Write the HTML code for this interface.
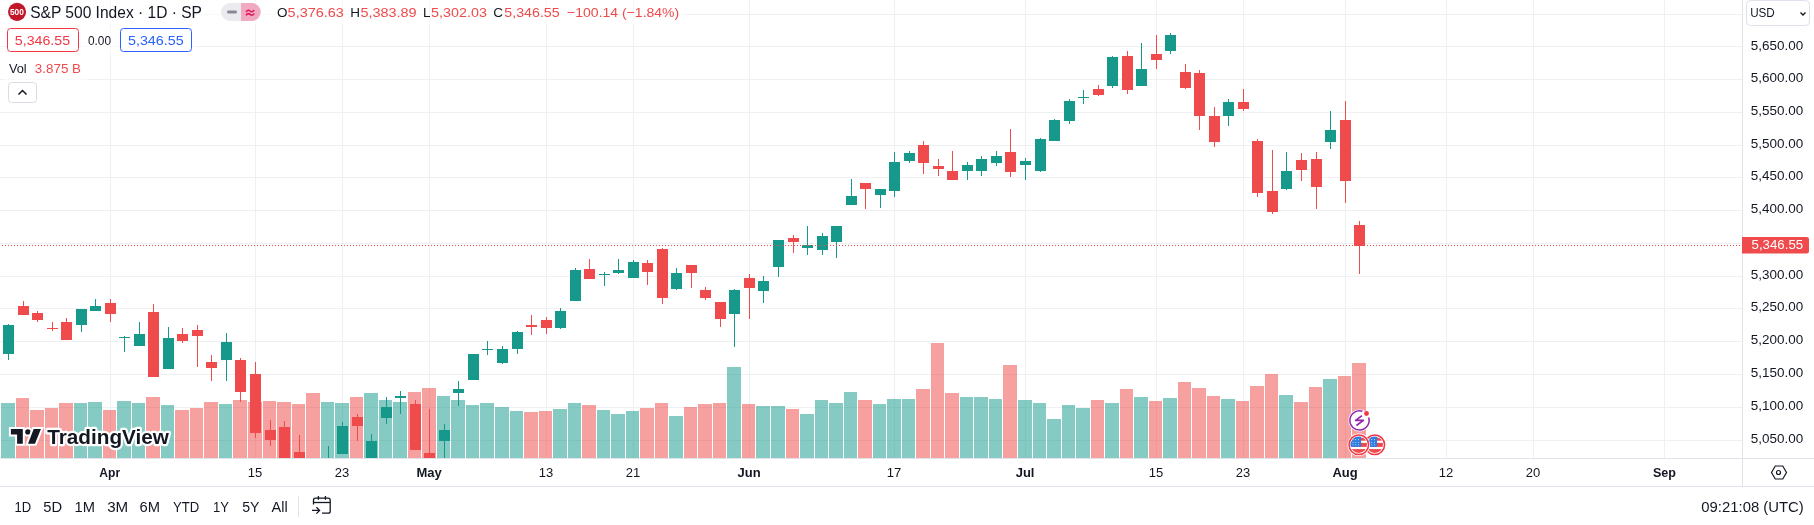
<!DOCTYPE html>
<html><head><meta charset="utf-8">
<style>
html,body{margin:0;padding:0;background:#fff;width:1814px;height:525px;overflow:hidden;}
svg{position:absolute;left:0;top:0;font-family:"Liberation Sans", sans-serif;will-change:transform;}
</style></head><body>
<svg width="1814" height="525" viewBox="0 0 1814 525">
<defs><clipPath id="pane"><rect x="0" y="0" width="1742" height="458"/></clipPath></defs>
<rect x="0" y="14" width="1742" height="1" fill="#eff0f1"/><rect x="0" y="46" width="1742" height="1" fill="#eff0f1"/><rect x="0" y="79" width="1742" height="1" fill="#eff0f1"/><rect x="0" y="112" width="1742" height="1" fill="#eff0f1"/><rect x="0" y="145" width="1742" height="1" fill="#eff0f1"/><rect x="0" y="177" width="1742" height="1" fill="#eff0f1"/><rect x="0" y="210" width="1742" height="1" fill="#eff0f1"/><rect x="0" y="243" width="1742" height="1" fill="#eff0f1"/><rect x="0" y="276" width="1742" height="1" fill="#eff0f1"/><rect x="0" y="308" width="1742" height="1" fill="#eff0f1"/><rect x="0" y="341" width="1742" height="1" fill="#eff0f1"/><rect x="0" y="374" width="1742" height="1" fill="#eff0f1"/><rect x="0" y="407" width="1742" height="1" fill="#eff0f1"/><rect x="0" y="440" width="1742" height="1" fill="#eff0f1"/><rect x="110" y="0" width="1" height="458" fill="#eff0f1"/><rect x="255" y="0" width="1" height="458" fill="#eff0f1"/><rect x="342" y="0" width="1" height="458" fill="#eff0f1"/><rect x="429" y="0" width="1" height="458" fill="#eff0f1"/><rect x="546" y="0" width="1" height="458" fill="#eff0f1"/><rect x="633" y="0" width="1" height="458" fill="#eff0f1"/><rect x="749" y="0" width="1" height="458" fill="#eff0f1"/><rect x="894" y="0" width="1" height="458" fill="#eff0f1"/><rect x="1025" y="0" width="1" height="458" fill="#eff0f1"/><rect x="1156" y="0" width="1" height="458" fill="#eff0f1"/><rect x="1243" y="0" width="1" height="458" fill="#eff0f1"/><rect x="1345" y="0" width="1" height="458" fill="#eff0f1"/><rect x="1446" y="0" width="1" height="458" fill="#eff0f1"/><rect x="1533" y="0" width="1" height="458" fill="#eff0f1"/><rect x="1664" y="0" width="1" height="458" fill="#eff0f1"/><g><rect x="1" y="403" width="14" height="55" fill="rgba(11,151,135,0.5)"/><rect x="16" y="398" width="13" height="60" fill="rgba(237,65,65,0.5)"/><rect x="30" y="410" width="14" height="48" fill="rgba(237,65,65,0.5)"/><rect x="45" y="408" width="13" height="50" fill="rgba(237,65,65,0.5)"/><rect x="59" y="403" width="14" height="55" fill="rgba(237,65,65,0.5)"/><rect x="74" y="403" width="13" height="55" fill="rgba(11,151,135,0.5)"/><rect x="88" y="402" width="14" height="56" fill="rgba(11,151,135,0.5)"/><rect x="103" y="410" width="13" height="48" fill="rgba(237,65,65,0.5)"/><rect x="117" y="401" width="14" height="57" fill="rgba(11,151,135,0.5)"/><rect x="132" y="403" width="13" height="55" fill="rgba(11,151,135,0.5)"/><rect x="146" y="397" width="14" height="61" fill="rgba(237,65,65,0.5)"/><rect x="161" y="405" width="13" height="53" fill="rgba(11,151,135,0.5)"/><rect x="175" y="410" width="14" height="48" fill="rgba(237,65,65,0.5)"/><rect x="190" y="408" width="13" height="50" fill="rgba(237,65,65,0.5)"/><rect x="204" y="402" width="14" height="56" fill="rgba(237,65,65,0.5)"/><rect x="219" y="404" width="13" height="54" fill="rgba(11,151,135,0.5)"/><rect x="233" y="400" width="14" height="58" fill="rgba(237,65,65,0.5)"/><rect x="248" y="402" width="14" height="56" fill="rgba(237,65,65,0.5)"/><rect x="263" y="401" width="13" height="57" fill="rgba(237,65,65,0.5)"/><rect x="277" y="402" width="14" height="56" fill="rgba(237,65,65,0.5)"/><rect x="292" y="404" width="13" height="54" fill="rgba(237,65,65,0.5)"/><rect x="306" y="393" width="14" height="65" fill="rgba(237,65,65,0.5)"/><rect x="321" y="402" width="13" height="56" fill="rgba(11,151,135,0.5)"/><rect x="335" y="403" width="14" height="55" fill="rgba(11,151,135,0.5)"/><rect x="350" y="397" width="13" height="61" fill="rgba(237,65,65,0.5)"/><rect x="364" y="393" width="14" height="65" fill="rgba(11,151,135,0.5)"/><rect x="379" y="400" width="13" height="58" fill="rgba(11,151,135,0.5)"/><rect x="393" y="402" width="14" height="56" fill="rgba(11,151,135,0.5)"/><rect x="408" y="392" width="13" height="66" fill="rgba(237,65,65,0.5)"/><rect x="422" y="388" width="14" height="70" fill="rgba(237,65,65,0.5)"/><rect x="437" y="396" width="13" height="62" fill="rgba(11,151,135,0.5)"/><rect x="451" y="400" width="14" height="58" fill="rgba(11,151,135,0.5)"/><rect x="466" y="405" width="13" height="53" fill="rgba(11,151,135,0.5)"/><rect x="480" y="403" width="14" height="55" fill="rgba(11,151,135,0.5)"/><rect x="495" y="407" width="14" height="51" fill="rgba(11,151,135,0.5)"/><rect x="510" y="411" width="13" height="47" fill="rgba(11,151,135,0.5)"/><rect x="524" y="412" width="14" height="46" fill="rgba(237,65,65,0.5)"/><rect x="539" y="411" width="13" height="47" fill="rgba(237,65,65,0.5)"/><rect x="553" y="409" width="14" height="49" fill="rgba(11,151,135,0.5)"/><rect x="568" y="403" width="13" height="55" fill="rgba(11,151,135,0.5)"/><rect x="582" y="405" width="14" height="53" fill="rgba(237,65,65,0.5)"/><rect x="597" y="410" width="13" height="48" fill="rgba(11,151,135,0.5)"/><rect x="611" y="414" width="14" height="44" fill="rgba(11,151,135,0.5)"/><rect x="626" y="411" width="13" height="47" fill="rgba(11,151,135,0.5)"/><rect x="640" y="408" width="14" height="50" fill="rgba(237,65,65,0.5)"/><rect x="655" y="403" width="13" height="55" fill="rgba(237,65,65,0.5)"/><rect x="669" y="416" width="14" height="42" fill="rgba(11,151,135,0.5)"/><rect x="684" y="407" width="13" height="51" fill="rgba(237,65,65,0.5)"/><rect x="698" y="404" width="14" height="54" fill="rgba(237,65,65,0.5)"/><rect x="713" y="403" width="13" height="55" fill="rgba(237,65,65,0.5)"/><rect x="727" y="367" width="14" height="91" fill="rgba(11,151,135,0.5)"/><rect x="742" y="404" width="13" height="54" fill="rgba(237,65,65,0.5)"/><rect x="756" y="406" width="14" height="52" fill="rgba(11,151,135,0.5)"/><rect x="771" y="406" width="14" height="52" fill="rgba(11,151,135,0.5)"/><rect x="786" y="409" width="13" height="49" fill="rgba(237,65,65,0.5)"/><rect x="800" y="414" width="14" height="44" fill="rgba(11,151,135,0.5)"/><rect x="815" y="400" width="13" height="58" fill="rgba(11,151,135,0.5)"/><rect x="829" y="403" width="14" height="55" fill="rgba(11,151,135,0.5)"/><rect x="844" y="392" width="13" height="66" fill="rgba(11,151,135,0.5)"/><rect x="858" y="400" width="14" height="58" fill="rgba(237,65,65,0.5)"/><rect x="873" y="404" width="13" height="54" fill="rgba(11,151,135,0.5)"/><rect x="887" y="399" width="14" height="59" fill="rgba(11,151,135,0.5)"/><rect x="902" y="399" width="13" height="59" fill="rgba(11,151,135,0.5)"/><rect x="916" y="389" width="14" height="69" fill="rgba(237,65,65,0.5)"/><rect x="931" y="343" width="13" height="115" fill="rgba(237,65,65,0.5)"/><rect x="945" y="393" width="14" height="65" fill="rgba(237,65,65,0.5)"/><rect x="960" y="397" width="13" height="61" fill="rgba(11,151,135,0.5)"/><rect x="974" y="397" width="14" height="61" fill="rgba(11,151,135,0.5)"/><rect x="989" y="399" width="13" height="59" fill="rgba(11,151,135,0.5)"/><rect x="1003" y="365" width="14" height="93" fill="rgba(237,65,65,0.5)"/><rect x="1018" y="400" width="14" height="58" fill="rgba(11,151,135,0.5)"/><rect x="1033" y="403" width="13" height="55" fill="rgba(11,151,135,0.5)"/><rect x="1047" y="419" width="14" height="39" fill="rgba(11,151,135,0.5)"/><rect x="1062" y="405" width="13" height="53" fill="rgba(11,151,135,0.5)"/><rect x="1076" y="408" width="14" height="50" fill="rgba(11,151,135,0.5)"/><rect x="1091" y="400" width="13" height="58" fill="rgba(237,65,65,0.5)"/><rect x="1105" y="403" width="14" height="55" fill="rgba(11,151,135,0.5)"/><rect x="1120" y="389" width="13" height="69" fill="rgba(237,65,65,0.5)"/><rect x="1134" y="397" width="14" height="61" fill="rgba(11,151,135,0.5)"/><rect x="1149" y="401" width="13" height="57" fill="rgba(237,65,65,0.5)"/><rect x="1163" y="398" width="14" height="60" fill="rgba(11,151,135,0.5)"/><rect x="1178" y="382" width="13" height="76" fill="rgba(237,65,65,0.5)"/><rect x="1192" y="388" width="14" height="70" fill="rgba(237,65,65,0.5)"/><rect x="1207" y="396" width="13" height="62" fill="rgba(237,65,65,0.5)"/><rect x="1221" y="399" width="14" height="59" fill="rgba(11,151,135,0.5)"/><rect x="1236" y="401" width="13" height="57" fill="rgba(237,65,65,0.5)"/><rect x="1250" y="386" width="14" height="72" fill="rgba(237,65,65,0.5)"/><rect x="1265" y="374" width="13" height="84" fill="rgba(237,65,65,0.5)"/><rect x="1279" y="395" width="14" height="63" fill="rgba(11,151,135,0.5)"/><rect x="1294" y="402" width="14" height="56" fill="rgba(237,65,65,0.5)"/><rect x="1309" y="387" width="13" height="71" fill="rgba(237,65,65,0.5)"/><rect x="1323" y="379" width="14" height="79" fill="rgba(11,151,135,0.5)"/><rect x="1338" y="376" width="13" height="82" fill="rgba(237,65,65,0.5)"/><rect x="1352" y="363" width="14" height="95" fill="rgba(237,65,65,0.5)"/></g><g clip-path="url(#pane)"><rect x="8" y="324" width="1" height="36" fill="#16998b"/><rect x="3" y="325" width="11" height="29" fill="#16998b"/><rect x="23" y="301" width="1" height="14" fill="#ef4a4c"/><rect x="18" y="306" width="11" height="9" fill="#ef4a4c"/><rect x="37" y="311" width="1" height="11" fill="#ef4a4c"/><rect x="32" y="313" width="11" height="7" fill="#ef4a4c"/><rect x="52" y="322" width="1" height="9" fill="#ef4a4c"/><rect x="47" y="328" width="11" height="1" fill="#ef4a4c"/><rect x="66" y="318" width="1" height="22" fill="#ef4a4c"/><rect x="61" y="322" width="11" height="18" fill="#ef4a4c"/><rect x="81" y="309" width="1" height="23" fill="#16998b"/><rect x="76" y="309" width="11" height="16" fill="#16998b"/><rect x="95" y="299" width="1" height="12" fill="#16998b"/><rect x="90" y="306" width="11" height="5" fill="#16998b"/><rect x="110" y="299" width="1" height="23" fill="#ef4a4c"/><rect x="105" y="303" width="11" height="11" fill="#ef4a4c"/><rect x="124" y="336" width="1" height="16" fill="#16998b"/><rect x="119" y="337" width="11" height="1" fill="#16998b"/><rect x="139" y="322" width="1" height="24" fill="#16998b"/><rect x="134" y="334" width="11" height="12" fill="#16998b"/><rect x="153" y="304" width="1" height="73" fill="#ef4a4c"/><rect x="148" y="312" width="11" height="65" fill="#ef4a4c"/><rect x="168" y="327" width="1" height="42" fill="#16998b"/><rect x="163" y="338" width="11" height="31" fill="#16998b"/><rect x="182" y="328" width="1" height="15" fill="#ef4a4c"/><rect x="177" y="334" width="11" height="7" fill="#ef4a4c"/><rect x="197" y="325" width="1" height="42" fill="#ef4a4c"/><rect x="192" y="330" width="11" height="6" fill="#ef4a4c"/><rect x="211" y="355" width="1" height="26" fill="#ef4a4c"/><rect x="206" y="362" width="11" height="6" fill="#ef4a4c"/><rect x="226" y="333" width="1" height="48" fill="#16998b"/><rect x="221" y="342" width="11" height="18" fill="#16998b"/><rect x="240" y="358" width="1" height="44" fill="#ef4a4c"/><rect x="235" y="360" width="11" height="32" fill="#ef4a4c"/><rect x="255" y="362" width="1" height="76" fill="#ef4a4c"/><rect x="250" y="374" width="11" height="59" fill="#ef4a4c"/><rect x="270" y="420" width="1" height="26" fill="#ef4a4c"/><rect x="265" y="430" width="11" height="10" fill="#ef4a4c"/><rect x="284" y="421" width="1" height="49" fill="#ef4a4c"/><rect x="279" y="427" width="11" height="43" fill="#ef4a4c"/><rect x="299" y="435" width="1" height="35" fill="#ef4a4c"/><rect x="294" y="452" width="11" height="18" fill="#ef4a4c"/><rect x="313" y="470" width="1" height="10" fill="#ef4a4c"/><rect x="308" y="470" width="11" height="10" fill="#ef4a4c"/><rect x="328" y="446" width="1" height="34" fill="#16998b"/><rect x="323" y="470" width="11" height="10" fill="#16998b"/><rect x="342" y="422" width="1" height="32" fill="#16998b"/><rect x="337" y="426" width="11" height="28" fill="#16998b"/><rect x="357" y="414" width="1" height="27" fill="#ef4a4c"/><rect x="352" y="417" width="11" height="9" fill="#ef4a4c"/><rect x="371" y="434" width="1" height="36" fill="#16998b"/><rect x="366" y="441" width="11" height="29" fill="#16998b"/><rect x="386" y="397" width="1" height="27" fill="#16998b"/><rect x="381" y="407" width="11" height="11" fill="#16998b"/><rect x="400" y="391" width="1" height="23" fill="#16998b"/><rect x="395" y="396" width="11" height="2" fill="#16998b"/><rect x="415" y="400" width="1" height="50" fill="#ef4a4c"/><rect x="410" y="404" width="11" height="46" fill="#ef4a4c"/><rect x="429" y="409" width="1" height="61" fill="#ef4a4c"/><rect x="424" y="453" width="11" height="17" fill="#ef4a4c"/><rect x="444" y="424" width="1" height="46" fill="#16998b"/><rect x="439" y="430" width="11" height="11" fill="#16998b"/><rect x="458" y="381" width="1" height="25" fill="#16998b"/><rect x="453" y="389" width="11" height="4" fill="#16998b"/><rect x="473" y="354" width="1" height="26" fill="#16998b"/><rect x="468" y="354" width="11" height="26" fill="#16998b"/><rect x="487" y="341" width="1" height="14" fill="#16998b"/><rect x="482" y="349" width="11" height="1" fill="#16998b"/><rect x="502" y="346" width="1" height="18" fill="#16998b"/><rect x="497" y="349" width="11" height="14" fill="#16998b"/><rect x="517" y="331" width="1" height="23" fill="#16998b"/><rect x="512" y="332" width="11" height="17" fill="#16998b"/><rect x="531" y="315" width="1" height="20" fill="#ef4a4c"/><rect x="526" y="325" width="11" height="2" fill="#ef4a4c"/><rect x="546" y="317" width="1" height="17" fill="#ef4a4c"/><rect x="541" y="320" width="11" height="8" fill="#ef4a4c"/><rect x="560" y="308" width="1" height="21" fill="#16998b"/><rect x="555" y="311" width="11" height="17" fill="#16998b"/><rect x="575" y="268" width="1" height="33" fill="#16998b"/><rect x="570" y="270" width="11" height="31" fill="#16998b"/><rect x="589" y="259" width="1" height="20" fill="#ef4a4c"/><rect x="584" y="269" width="11" height="10" fill="#ef4a4c"/><rect x="604" y="272" width="1" height="14" fill="#16998b"/><rect x="599" y="274" width="11" height="1" fill="#16998b"/><rect x="618" y="259" width="1" height="15" fill="#16998b"/><rect x="613" y="270" width="11" height="3" fill="#16998b"/><rect x="633" y="260" width="1" height="18" fill="#16998b"/><rect x="628" y="262" width="11" height="16" fill="#16998b"/><rect x="647" y="260" width="1" height="25" fill="#ef4a4c"/><rect x="642" y="263" width="11" height="9" fill="#ef4a4c"/><rect x="662" y="248" width="1" height="56" fill="#ef4a4c"/><rect x="657" y="249" width="11" height="49" fill="#ef4a4c"/><rect x="676" y="268" width="1" height="22" fill="#16998b"/><rect x="671" y="273" width="11" height="16" fill="#16998b"/><rect x="691" y="265" width="1" height="23" fill="#ef4a4c"/><rect x="686" y="265" width="11" height="8" fill="#ef4a4c"/><rect x="705" y="287" width="1" height="13" fill="#ef4a4c"/><rect x="700" y="290" width="11" height="8" fill="#ef4a4c"/><rect x="720" y="302" width="1" height="25" fill="#ef4a4c"/><rect x="715" y="302" width="11" height="17" fill="#ef4a4c"/><rect x="734" y="289" width="1" height="58" fill="#16998b"/><rect x="729" y="290" width="11" height="24" fill="#16998b"/><rect x="749" y="274" width="1" height="45" fill="#ef4a4c"/><rect x="744" y="278" width="11" height="10" fill="#ef4a4c"/><rect x="763" y="276" width="1" height="27" fill="#16998b"/><rect x="758" y="281" width="11" height="10" fill="#16998b"/><rect x="778" y="240" width="1" height="37" fill="#16998b"/><rect x="773" y="240" width="11" height="27" fill="#16998b"/><rect x="793" y="235" width="1" height="18" fill="#ef4a4c"/><rect x="788" y="238" width="11" height="4" fill="#ef4a4c"/><rect x="807" y="226" width="1" height="29" fill="#16998b"/><rect x="802" y="245" width="11" height="3" fill="#16998b"/><rect x="822" y="233" width="1" height="22" fill="#16998b"/><rect x="817" y="236" width="11" height="14" fill="#16998b"/><rect x="836" y="226" width="1" height="32" fill="#16998b"/><rect x="831" y="226" width="11" height="16" fill="#16998b"/><rect x="851" y="179" width="1" height="26" fill="#16998b"/><rect x="846" y="196" width="11" height="9" fill="#16998b"/><rect x="865" y="183" width="1" height="26" fill="#ef4a4c"/><rect x="860" y="183" width="11" height="6" fill="#ef4a4c"/><rect x="880" y="189" width="1" height="19" fill="#16998b"/><rect x="875" y="189" width="11" height="6" fill="#16998b"/><rect x="894" y="152" width="1" height="45" fill="#16998b"/><rect x="889" y="162" width="11" height="29" fill="#16998b"/><rect x="909" y="151" width="1" height="12" fill="#16998b"/><rect x="904" y="153" width="11" height="8" fill="#16998b"/><rect x="923" y="141" width="1" height="33" fill="#ef4a4c"/><rect x="918" y="145" width="11" height="18" fill="#ef4a4c"/><rect x="938" y="159" width="1" height="17" fill="#ef4a4c"/><rect x="933" y="166" width="11" height="3" fill="#ef4a4c"/><rect x="952" y="151" width="1" height="29" fill="#ef4a4c"/><rect x="947" y="171" width="11" height="9" fill="#ef4a4c"/><rect x="967" y="162" width="1" height="18" fill="#16998b"/><rect x="962" y="165" width="11" height="6" fill="#16998b"/><rect x="981" y="156" width="1" height="20" fill="#16998b"/><rect x="976" y="159" width="11" height="12" fill="#16998b"/><rect x="996" y="151" width="1" height="15" fill="#16998b"/><rect x="991" y="156" width="11" height="7" fill="#16998b"/><rect x="1010" y="129" width="1" height="48" fill="#ef4a4c"/><rect x="1005" y="152" width="11" height="20" fill="#ef4a4c"/><rect x="1025" y="158" width="1" height="22" fill="#16998b"/><rect x="1020" y="161" width="11" height="4" fill="#16998b"/><rect x="1040" y="138" width="1" height="34" fill="#16998b"/><rect x="1035" y="139" width="11" height="32" fill="#16998b"/><rect x="1054" y="119" width="1" height="22" fill="#16998b"/><rect x="1049" y="120" width="11" height="21" fill="#16998b"/><rect x="1069" y="99" width="1" height="25" fill="#16998b"/><rect x="1064" y="101" width="11" height="20" fill="#16998b"/><rect x="1083" y="90" width="1" height="14" fill="#16998b"/><rect x="1078" y="97" width="11" height="1" fill="#16998b"/><rect x="1098" y="85" width="1" height="11" fill="#ef4a4c"/><rect x="1093" y="89" width="11" height="6" fill="#ef4a4c"/><rect x="1112" y="56" width="1" height="32" fill="#16998b"/><rect x="1107" y="57" width="11" height="29" fill="#16998b"/><rect x="1127" y="51" width="1" height="43" fill="#ef4a4c"/><rect x="1122" y="56" width="11" height="34" fill="#ef4a4c"/><rect x="1141" y="43" width="1" height="43" fill="#16998b"/><rect x="1136" y="69" width="11" height="17" fill="#16998b"/><rect x="1156" y="35" width="1" height="34" fill="#ef4a4c"/><rect x="1151" y="54" width="11" height="6" fill="#ef4a4c"/><rect x="1170" y="33" width="1" height="21" fill="#16998b"/><rect x="1165" y="35" width="11" height="16" fill="#16998b"/><rect x="1185" y="64" width="1" height="25" fill="#ef4a4c"/><rect x="1180" y="72" width="11" height="16" fill="#ef4a4c"/><rect x="1199" y="70" width="1" height="60" fill="#ef4a4c"/><rect x="1194" y="73" width="11" height="43" fill="#ef4a4c"/><rect x="1214" y="107" width="1" height="40" fill="#ef4a4c"/><rect x="1209" y="116" width="11" height="26" fill="#ef4a4c"/><rect x="1228" y="99" width="1" height="27" fill="#16998b"/><rect x="1223" y="102" width="11" height="14" fill="#16998b"/><rect x="1243" y="89" width="1" height="22" fill="#ef4a4c"/><rect x="1238" y="102" width="11" height="7" fill="#ef4a4c"/><rect x="1257" y="139" width="1" height="58" fill="#ef4a4c"/><rect x="1252" y="141" width="11" height="52" fill="#ef4a4c"/><rect x="1272" y="150" width="1" height="64" fill="#ef4a4c"/><rect x="1267" y="191" width="11" height="21" fill="#ef4a4c"/><rect x="1286" y="152" width="1" height="38" fill="#16998b"/><rect x="1281" y="171" width="11" height="18" fill="#16998b"/><rect x="1301" y="153" width="1" height="28" fill="#ef4a4c"/><rect x="1296" y="160" width="11" height="10" fill="#ef4a4c"/><rect x="1316" y="152" width="1" height="57" fill="#ef4a4c"/><rect x="1311" y="159" width="11" height="28" fill="#ef4a4c"/><rect x="1330" y="111" width="1" height="38" fill="#16998b"/><rect x="1325" y="130" width="11" height="12" fill="#16998b"/><rect x="1345" y="101" width="1" height="102" fill="#ef4a4c"/><rect x="1340" y="120" width="11" height="61" fill="#ef4a4c"/><rect x="1359" y="221" width="1" height="53" fill="#ef4a4c"/><rect x="1354" y="225" width="11" height="21" fill="#ef4a4c"/></g><line x1="0" y1="245.5" x2="1742" y2="245.5" stroke="#ef4a4c" stroke-width="1" stroke-dasharray="1 2" stroke-dashoffset="1"/><rect x="1742" y="0" width="1" height="487" fill="#e0e3eb"/><rect x="0" y="458" width="1814" height="1" fill="#e0e3eb"/><rect x="0" y="486" width="1814" height="1" fill="#e0e3eb"/><text x="1750.70" y="82.3" font-size="13" fill="#131722" textLength="52.44" lengthAdjust="spacingAndGlyphs">5,600.00</text><text x="1750.70" y="115.3" font-size="13" fill="#131722" textLength="52.44" lengthAdjust="spacingAndGlyphs">5,550.00</text><text x="1750.70" y="148.3" font-size="13" fill="#131722" textLength="52.44" lengthAdjust="spacingAndGlyphs">5,500.00</text><text x="1750.70" y="180.3" font-size="13" fill="#131722" textLength="52.44" lengthAdjust="spacingAndGlyphs">5,450.00</text><text x="1750.70" y="213.3" font-size="13" fill="#131722" textLength="52.44" lengthAdjust="spacingAndGlyphs">5,400.00</text><text x="1750.70" y="279.3" font-size="13" fill="#131722" textLength="52.44" lengthAdjust="spacingAndGlyphs">5,300.00</text><text x="1750.70" y="311.3" font-size="13" fill="#131722" textLength="52.44" lengthAdjust="spacingAndGlyphs">5,250.00</text><text x="1750.70" y="344.3" font-size="13" fill="#131722" textLength="52.44" lengthAdjust="spacingAndGlyphs">5,200.00</text><text x="1750.70" y="377.3" font-size="13" fill="#131722" textLength="52.44" lengthAdjust="spacingAndGlyphs">5,150.00</text><text x="1750.70" y="410.3" font-size="13" fill="#131722" textLength="52.44" lengthAdjust="spacingAndGlyphs">5,100.00</text><text x="1750.70" y="443.3" font-size="13" fill="#131722" textLength="52.44" lengthAdjust="spacingAndGlyphs">5,050.00</text><path d="M1742 237h64.5a2.5 2.5 0 0 1 2.5 2.5v11.5a2.5 2.5 0 0 1-2.5 2.5h-64.5z" fill="#ef4a4c"/><text x="1751.50" y="249.2" font-size="13" fill="#fff" textLength="51.64" lengthAdjust="spacingAndGlyphs">5,346.55</text><rect x="1746.5" y="0.5" width="63" height="25" rx="4" fill="#fff" stroke="#dfe2ea"/><path d="M1800.5 12.5l2.5 2.5l2.5-2.5" fill="none" stroke="#131722" stroke-width="1.3"/><text x="255.1" y="477.3" font-size="13" text-anchor="middle" fill="#131722">15</text><text x="342.1" y="477.3" font-size="13" text-anchor="middle" fill="#131722">23</text><text x="429.1" y="477.3" font-size="13" font-weight="bold" text-anchor="middle" fill="#131722">May</text><text x="546.1" y="477.3" font-size="13" text-anchor="middle" fill="#131722">13</text><text x="633.1" y="477.3" font-size="13" text-anchor="middle" fill="#131722">21</text><text x="749.1" y="477.3" font-size="13" font-weight="bold" text-anchor="middle" fill="#131722">Jun</text><text x="894.1" y="477.3" font-size="13" text-anchor="middle" fill="#131722">17</text><text x="1025.1" y="477.3" font-size="13" font-weight="bold" text-anchor="middle" fill="#131722">Jul</text><text x="1156.1" y="477.3" font-size="13" text-anchor="middle" fill="#131722">15</text><text x="1243.1" y="477.3" font-size="13" text-anchor="middle" fill="#131722">23</text><text x="1345.1" y="477.3" font-size="13" font-weight="bold" text-anchor="middle" fill="#131722">Aug</text><text x="1446.1" y="477.3" font-size="13" text-anchor="middle" fill="#131722">12</text><text x="1533.1" y="477.3" font-size="13" text-anchor="middle" fill="#131722">20</text><path d="M1771.5 472.5l3.75-6.5h7.5l3.75 6.5l-3.75 6.5h-7.5z" fill="none" stroke="#131722" stroke-width="1.2"/><circle cx="1778.5" cy="472.5" r="2" fill="none" stroke="#131722" stroke-width="1.2"/><rect x="298" y="496" width="1" height="21" fill="#e0e3eb"/><g fill="none" stroke="#131722" stroke-width="1.3"><path d="M313.5 504.6V500.2a2 2 0 0 1 2-2H328.2a2 2 0 0 1 2 2V511.2a2 2 0 0 1-2 2H322"/><path d="M313.5 502.5H330.2"/><path d="M318.4 496V499.8M325.4 496V499.8"/><path d="M312 510.4H319.6M316.4 507.2L319.6 510.4L316.4 513.6"/></g><rect x="4" y="1" width="682" height="23" fill="#fff" opacity="0.6"/><rect x="4" y="26" width="192" height="28" fill="#fff" opacity="0.6"/><rect x="4" y="56" width="83" height="24" fill="#fff" opacity="0.6"/><circle cx="17.05" cy="11.85" r="9.05" fill="#c0172b"/><text x="9.9" y="14.9" font-size="8.6" font-weight="bold" fill="#fff" textLength="13.9" lengthAdjust="spacingAndGlyphs">500</text><path d="M230 3h11v18h-11a9 9 0 0 1 0-18z" fill="#ebebef"/><path d="M241 3h10.7a9 9 0 0 1 0 18h-10.7z" fill="#f1a9c1"/><rect x="227" y="10.5" width="10" height="3" rx="1.5" fill="#878a94"/><path d="M246.4 11.4c1.2-1.5 2.5-1.5 3.7-0.4s2.5 1.1 3.7-0.4M246.4 14.8c1.2-1.5 2.5-1.5 3.7-0.4s2.5 1.1 3.7-0.4" fill="none" stroke="#dc1a5e" stroke-width="1.6" stroke-linecap="round"/><rect x="7.5" y="28.5" width="71" height="23" rx="3" fill="#fff" stroke="#f23645"/><rect x="120.5" y="28.5" width="71" height="23" rx="3" fill="#fff" stroke="#2962ff"/><rect x="8.5" y="82.5" width="28" height="20" rx="3" fill="#fff" stroke="#d9dce3"/><path d="M18.5 94.5l4-4l4 4" fill="none" stroke="#131722" stroke-width="1.5"/><g stroke="#fff" stroke-width="4" stroke-linejoin="miter" paint-order="stroke" fill="#131722"><path d="M10.9 429H22.8V443.8H17.1V434.6H10.9z"/><circle cx="27.9" cy="431.9" r="2.7"/><path d="M33.7 429H40.9L35 443.8H28z"/></g><g><circle cx="1359.5" cy="420.4" r="11" fill="#fff"/><path d="M1368.63 417.43A9.6 9.6 0 1 1 1362.47 411.27" fill="none" stroke="#9027ac" stroke-width="1.5"/><path d="M1362 415.6L1355.6 420.4H1363.4L1356.4 425.5" fill="none" stroke="#9027ac" stroke-width="1.7" stroke-linejoin="round"/><circle cx="1366.5" cy="413.5" r="2.4" fill="#f23645"/><circle cx="1374.8" cy="444.8" r="11.2" fill="#fff"/><circle cx="1374.8" cy="444.8" r="9.8" fill="none" stroke="#f23645" stroke-width="1.5"/><clipPath id="fc1374"><circle cx="1374.8" cy="444.8" r="8.2"/></clipPath><g clip-path="url(#fc1374)"><rect x="1365.8" y="435.8" width="18" height="18" fill="#fff"/><rect x="1365.8" y="437.7" width="18" height="3" fill="#ef4a4c"/><rect x="1365.8" y="442.90000000000003" width="18" height="4" fill="#ef4a4c"/><rect x="1365.8" y="449.1" width="18" height="5" fill="#ef4a4c"/><rect x="1365.8" y="435.8" width="11.3" height="11.1" fill="#2f7de1"/><circle cx="1369.00" cy="439.60" r="0.55" fill="#fff" opacity="0.8"/><circle cx="1369.00" cy="442.20" r="0.55" fill="#fff" opacity="0.8"/><circle cx="1369.00" cy="444.80" r="0.55" fill="#fff" opacity="0.8"/><circle cx="1371.70" cy="439.60" r="0.55" fill="#fff" opacity="0.8"/><circle cx="1371.70" cy="442.20" r="0.55" fill="#fff" opacity="0.8"/><circle cx="1371.70" cy="444.80" r="0.55" fill="#fff" opacity="0.8"/><circle cx="1374.40" cy="439.60" r="0.55" fill="#fff" opacity="0.8"/><circle cx="1374.40" cy="442.20" r="0.55" fill="#fff" opacity="0.8"/><circle cx="1374.40" cy="444.80" r="0.55" fill="#fff" opacity="0.8"/></g><circle cx="1358.8" cy="444.8" r="11.2" fill="#fff"/><circle cx="1358.8" cy="444.8" r="9.8" fill="none" stroke="#f23645" stroke-width="1.5"/><clipPath id="fc1358"><circle cx="1358.8" cy="444.8" r="8.2"/></clipPath><g clip-path="url(#fc1358)"><rect x="1349.8" y="435.8" width="18" height="18" fill="#fff"/><rect x="1349.8" y="437.7" width="18" height="3" fill="#ef4a4c"/><rect x="1349.8" y="442.90000000000003" width="18" height="4" fill="#ef4a4c"/><rect x="1349.8" y="449.1" width="18" height="5" fill="#ef4a4c"/><rect x="1349.8" y="435.8" width="11.3" height="11.1" fill="#2f7de1"/><circle cx="1353.00" cy="439.60" r="0.55" fill="#fff" opacity="0.8"/><circle cx="1353.00" cy="442.20" r="0.55" fill="#fff" opacity="0.8"/><circle cx="1353.00" cy="444.80" r="0.55" fill="#fff" opacity="0.8"/><circle cx="1355.70" cy="439.60" r="0.55" fill="#fff" opacity="0.8"/><circle cx="1355.70" cy="442.20" r="0.55" fill="#fff" opacity="0.8"/><circle cx="1355.70" cy="444.80" r="0.55" fill="#fff" opacity="0.8"/><circle cx="1358.40" cy="439.60" r="0.55" fill="#fff" opacity="0.8"/><circle cx="1358.40" cy="442.20" r="0.55" fill="#fff" opacity="0.8"/><circle cx="1358.40" cy="444.80" r="0.55" fill="#fff" opacity="0.8"/></g></g><text x="30.15" y="17.6" font-size="16.5" fill="#131722" textLength="171.87" lengthAdjust="spacingAndGlyphs">S&amp;P 500 Index · 1D · SP</text><text x="277.10" y="17.4" font-size="13.5" fill="#131722" textLength="10.50" lengthAdjust="spacingAndGlyphs">O</text><text x="287.60" y="17.4" font-size="13.5" fill="#ef4a4c" textLength="56.24" lengthAdjust="spacingAndGlyphs">5,376.63</text><text x="350.15" y="17.4" font-size="13.5" fill="#131722" textLength="9.75" lengthAdjust="spacingAndGlyphs">H</text><text x="360.40" y="17.4" font-size="13.5" fill="#ef4a4c" textLength="56.22" lengthAdjust="spacingAndGlyphs">5,383.89</text><text x="423.00" y="17.4" font-size="13.5" fill="#131722" textLength="7.51" lengthAdjust="spacingAndGlyphs">L</text><text x="431.00" y="17.4" font-size="13.5" fill="#ef4a4c" textLength="55.91" lengthAdjust="spacingAndGlyphs">5,302.03</text><text x="493.35" y="17.4" font-size="13.5" fill="#131722" textLength="9.75" lengthAdjust="spacingAndGlyphs">C</text><text x="504.35" y="17.4" font-size="13.5" fill="#ef4a4c" textLength="55.34" lengthAdjust="spacingAndGlyphs">5,346.55</text><text x="567.10" y="17.4" font-size="13.5" fill="#ef4a4c" textLength="112.14" lengthAdjust="spacingAndGlyphs">−100.14 (−1.84%)</text><text x="14.80" y="44.6" font-size="13.5" fill="#f23645" textLength="55.31" lengthAdjust="spacingAndGlyphs">5,346.55</text><text x="87.90" y="44.6" font-size="13" fill="#131722" textLength="23.11" lengthAdjust="spacingAndGlyphs">0.00</text><text x="127.95" y="44.6" font-size="13.5" fill="#2962ff" textLength="55.78" lengthAdjust="spacingAndGlyphs">5,346.55</text><text x="8.90" y="73" font-size="13" fill="#131722" textLength="17.77" lengthAdjust="spacingAndGlyphs">Vol</text><text x="34.80" y="73" font-size="13" fill="#ef4a4c" textLength="46.22" lengthAdjust="spacingAndGlyphs">3.875 B</text><text x="99.30" y="477.3" font-size="13" font-weight="bold" fill="#131722" textLength="20.83" lengthAdjust="spacingAndGlyphs">Apr</text><text x="1652.95" y="477.3" font-size="13" font-weight="bold" fill="#131722" textLength="23.00" lengthAdjust="spacingAndGlyphs">Sep</text><text x="14.55" y="512" font-size="14" fill="#131722" textLength="16.69" lengthAdjust="spacingAndGlyphs">1D</text><text x="43.20" y="512" font-size="14" fill="#131722" textLength="18.84" lengthAdjust="spacingAndGlyphs">5D</text><text x="74.60" y="512" font-size="14" fill="#131722" textLength="20.43" lengthAdjust="spacingAndGlyphs">1M</text><text x="107.15" y="512" font-size="14" fill="#131722" textLength="21.04" lengthAdjust="spacingAndGlyphs">3M</text><text x="139.55" y="512" font-size="14" fill="#131722" textLength="20.48" lengthAdjust="spacingAndGlyphs">6M</text><text x="173.10" y="512" font-size="14" fill="#131722" textLength="26.26" lengthAdjust="spacingAndGlyphs">YTD</text><text x="212.95" y="512" font-size="14" fill="#131722" textLength="15.98" lengthAdjust="spacingAndGlyphs">1Y</text><text x="242.15" y="512" font-size="14" fill="#131722" textLength="17.30" lengthAdjust="spacingAndGlyphs">5Y</text><text x="271.50" y="512" font-size="14" fill="#131722" textLength="16.12" lengthAdjust="spacingAndGlyphs">All</text><text x="1701.35" y="511.7" font-size="14" fill="#131722" textLength="102.38" lengthAdjust="spacingAndGlyphs">09:21:08 (UTC)</text><text x="1750.15" y="16.9" font-size="12.5" fill="#131722" textLength="24.62" lengthAdjust="spacingAndGlyphs">USD</text><text x="1750.70" y="50.3" font-size="13" fill="#131722" textLength="52.44" lengthAdjust="spacingAndGlyphs">5,650.00</text><text x="47.20" y="444.2" font-size="21" font-weight="bold" stroke="#fff" stroke-width="4.4" stroke-linejoin="round" paint-order="stroke" fill="#131722" textLength="121.77" lengthAdjust="spacingAndGlyphs">TradingView</text>
</svg>
</body></html>
